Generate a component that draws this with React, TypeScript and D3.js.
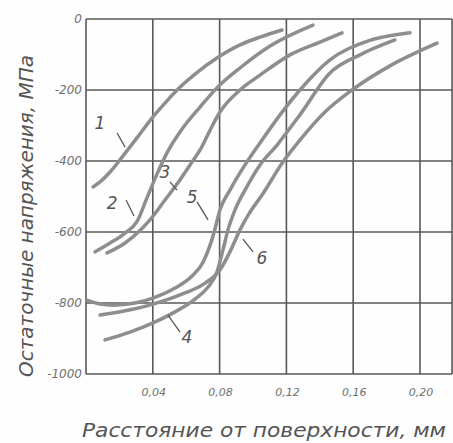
import React from "react";
import * as d3 from "d3";

const xTicks = [0.04, 0.08, 0.12, 0.16, 0.2];
const xTickLabels = ["0,04", "0,08", "0,12", "0,16", "0,20"];
const yTicks = [0, -200, -400, -600, -800, -1000];
const yTickLabels = ["0", "-200", "-400", "-600", "-800", "-1000"];

// distance from surface, mm  /  residual stress, MPa
const x1 = [0.0042, 0.0084, 0.0144, 0.0216, 0.0305, 0.0395, 0.0473, 0.0545, 0.0653, 0.0784, 0.0922, 0.1042, 0.1174];
const y1 = [-473, -459, -431, -389, -335, -279, -237, -200, -155, -110, -73, -51, -31];

const x2 = [0.0054, 0.0144, 0.0234, 0.0305, 0.0365, 0.0425, 0.0485, 0.0563, 0.0683, 0.0784, 0.0922, 0.1102, 0.1359];
const y2 = [-656, -631, -603, -571, -504, -437, -377, -318, -248, -194, -138, -76, -17];

const x3 = [0.0126, 0.0234, 0.0383, 0.0473, 0.0545, 0.0623, 0.0683, 0.0743, 0.0802, 0.0922, 0.1042, 0.1222, 0.1401, 0.1533];
const y3 = [-659, -631, -566, -510, -465, -411, -369, -313, -262, -200, -158, -101, -65, -39];

const x4 = [0.0114, 0.0263, 0.0401, 0.0533, 0.0653, 0.0731, 0.0784, 0.082, 0.085, 0.0892, 0.0952, 0.1042, 0.1144, 0.1281, 0.1461, 0.1641, 0.185];
const y4 = [-904, -882, -856, -825, -789, -755, -713, -651, -594, -538, -482, -411, -355, -270, -152, -101, -59];

const x5 = [0.0006, 0.0084, 0.0162, 0.0293, 0.0401, 0.0533, 0.0635, 0.0701, 0.0743, 0.0772, 0.0802, 0.0862, 0.0952, 0.1042, 0.1162, 0.1281, 0.1461, 0.1671, 0.194];
const y5 = [-792, -803, -806, -800, -786, -758, -724, -685, -637, -592, -538, -482, -411, -349, -270, -200, -115, -65, -39];

const x6 = [0.0084, 0.0234, 0.0401, 0.0563, 0.0713, 0.0802, 0.0862, 0.0922, 0.0982, 0.1054, 0.1174, 0.1281, 0.1431, 0.1593, 0.182, 0.2102];
const y6 = [-834, -822, -803, -777, -744, -707, -656, -594, -544, -496, -406, -341, -262, -200, -132, -68];

const seriesX = [x1, x2, x3, x4, x5, x6];
const seriesY = [y1, y2, y3, y4, y5, y6];

const labelNames = ["1", "2", "3", "4", "5", "6"];
const labelAt = [
  [0.0084, -293], [0.0156, -518], [0.0473, -431], [0.0605, -896], [0.0635, -501], [0.1054, -673],
];
const leaderFrom = [
  [0.0186, -321], [0.024, -510], [0.0503, -459], [0.0563, -882], [0.0665, -515], [0.1, -656],
];
const leaderTo = [
  [0.0234, -361], [0.0287, -555], [0.0545, -482], [0.0491, -834], [0.0731, -566], [0.094, -620],
];

export default function App() {
  const W = 453;
  const H = 443;
  const x = d3.scaleLinear().domain([0, 0.2]).range([86, 420]);
  const y = d3.scaleLinear().domain([0, -1000]).range([19, 374]);
  const xMax = 0.2192;

  const line = d3
    .line<[number, number]>()
    .x((d) => x(d[0]))
    .y((d) => y(d[1]))
    .curve(d3.curveMonotoneX);

  const gridColor = "#585858";
  const curveColor = "#8e8e8e";
  const textColor = "#555";
  const tickColor = "#707070";
  const font = "'DejaVu Sans', sans-serif";

  const vLines = [0, ...xTicks, xMax];

  return (
    <svg
      width={W}
      height={H}
      style={{ position: "absolute", left: 0, top: 0, background: "#fff" }}
    >
      <rect x={0} y={0} width={W} height={H} fill="#fefefe" />
      {vLines.map((v, i) => (
        <line
          key={"v" + i}
          x1={x(v)}
          x2={x(v)}
          y1={y(0)}
          y2={y(-1000)}
          stroke={gridColor}
          strokeWidth={1.6}
        />
      ))}
      {yTicks.map((v, i) => (
        <line
          key={"h" + i}
          x1={x(0)}
          x2={x(xMax)}
          y1={y(v)}
          y2={y(v)}
          stroke={gridColor}
          strokeWidth={1.6}
        />
      ))}
      {seriesX.map((xs, i) => (
        <path
          key={"c" + i}
          d={line(xs.map((xv, j) => [xv, seriesY[i][j]]) as [number, number][]) || ""}
          fill="none"
          stroke={curveColor}
          strokeWidth={3.5}
          strokeLinecap="round"
        />
      ))}
      {labelNames.map((n, i) => (
        <g key={"l" + i}>
          <line
            x1={x(leaderFrom[i][0])}
            y1={y(leaderFrom[i][1])}
            x2={x(leaderTo[i][0])}
            y2={y(leaderTo[i][1])}
            stroke={textColor}
            strokeWidth={1.3}
          />
          <text
            x={x(labelAt[i][0])}
            y={y(labelAt[i][1])}
            fontFamily={font}
            fontStyle="italic"
            fontSize={17}
            fill={textColor}
            textAnchor="middle"
            dominantBaseline="central"
          >
            {n}
          </text>
        </g>
      ))}
      {yTicks.map((v, i) => (
        <text
          key={"yt" + i}
          x={82}
          y={y(v) + 4}
          fontFamily={font}
          fontStyle="italic"
          fontSize={12}
          fill={tickColor}
          textAnchor="end"
        >
          {yTickLabels[i]}
        </text>
      ))}
      {xTicks.map((v, i) => (
        <text
          key={"xt" + i}
          x={x(v) + 1}
          y={396}
          fontFamily={font}
          fontStyle="italic"
          fontSize={11}
          fill={tickColor}
          textAnchor="middle"
        >
          {xTickLabels[i]}
        </text>
      ))}
      <text
        x={82}
        y={437}
        fontFamily={font}
        fontStyle="italic"
        fontSize={20}
        fill={textColor}
        textLength={364}
        lengthAdjust="spacingAndGlyphs"
      >
        Расстояние от поверхности, мм
      </text>
      <text
        transform={`translate(33, 377) rotate(-90)`}
        fontFamily={font}
        fontStyle="italic"
        fontSize={20}
        fill={textColor}
        textLength={322}
        lengthAdjust="spacingAndGlyphs"
      >
        Остаточные напряжения, МПа
      </text>
    </svg>
  );
}
